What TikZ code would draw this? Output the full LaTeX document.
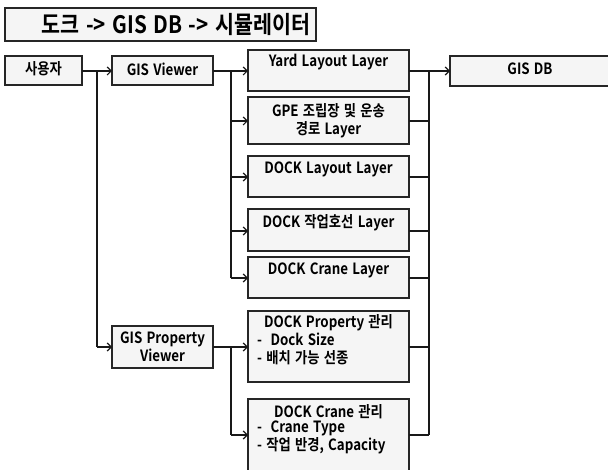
\documentclass[tikz,border=0pt]{standalone}
\usepackage{fontspec}
\setmainfont{Noto Sans CJK KR}[BoldFont=* Bold, FakeStretch=0.86, WordSpace=1.4]
\usetikzlibrary{arrows.meta,calc}
\begin{document}
\begin{tikzpicture}[x=1pt,y=-1pt,
  box/.style={draw=black!85,line width=1.4pt,fill=black!4,rectangle,inner sep=0pt,outer sep=0pt,anchor=north west},
  txt/.style={inner sep=0pt,font=\fontsize{15.5}{17.5}\selectfont\bfseries,align=center},
  conn/.style={draw=black!90,line width=1.4pt},
  arr/.style={conn,-{Straight Barb[length=4pt,width=8pt,line width=1.2pt]}}]
\useasboundingbox (0,0) rectangle (608,470);
% boxes
\node[box,minimum width=311,minimum height=33] (title) at (5,8) {};
\node[txt,font=\fontsize{24}{28}\selectfont\bfseries] (titlet) at (176,24.5) {도크 -> GIS DB -> 시뮬레이터};
\node[box,minimum width=77,minimum height=29] (user) at (5,56) {};
\node[txt] (usert) at (43.5,69) {사용자};
\node[box,minimum width=101,minimum height=29] (viewer) at (112,56) {};
\node[txt] (viewert) at (162.5,69) {GIS Viewer};
\node[box,minimum width=101,minimum height=42] (pviewer) at (112,326) {};
\node[txt] (pviewert) at (pviewer.center) {GIS Property\\Viewer};
\node[box,minimum width=161,minimum height=41] (yard) at (248,50) {};
\node[txt] (yardt) at (328.5,62) {Yard Layout Layer};
\node[box,minimum width=161,minimum height=47] (gpe) at (248,97) {};
\node[txt] (gpet) at (gpe.center) {GPE 조립장 및 운송\\경로 Layer};
\node[box,minimum width=161,minimum height=41] (dlay) at (248,156) {};
\node[txt] (dlayt) at (328.5,169) {DOCK Layout Layer};
\node[box,minimum width=161,minimum height=42] (dwork) at (248,209) {};
\node[txt] (dworkt) at (328.5,223) {DOCK 작업호선 Layer};
\node[box,minimum width=161,minimum height=41] (dcrane) at (248,257) {};
\node[txt] (dcranet) at (328.5,270) {DOCK Crane Layer};
\node[box,minimum width=161,minimum height=71] (dprop) at (248,311) {};
\node[txt] (dpropt) at (328.5,323) {DOCK Property 관리};
\node[txt,anchor=north west,align=left] (dpropl) at (257,333) {-\ \ Dock Size\\- 배치 가능 선종};
\node[box,minimum width=161,minimum height=100] (dcm) at (248,399) {};
\node[txt] (dcmt) at (328.5,412) {DOCK Crane 관리};
\node[txt,anchor=north west,align=left] (dcml) at (257,421) {-\ \ Crane Type\\- 작업 반경, Capacity};
\node[box,minimum width=162,minimum height=30] (gisdb) at (450,56) {};
\node[txt] (gisdbt) at (530,69) {GIS DB};
% junctions
\coordinate (j1) at (97,71);
\coordinate (j2) at (231,71);
\coordinate (j3) at (429,71);
\coordinate (j4) at (231,347);
% connectors
\draw[arr] (user.east |- j1) -- (viewer.west |- j1);
\draw[conn] (j1) -- (97,347);
\draw[arr] (97,347) -- (pviewer.west |- j4);
\draw[conn] (viewer.east |- j2) -- (j2) -- (231,278);
\draw[arr] (j2) -- (yard.west |- j2);
\draw[arr] (231,121) -- (gpe.west |- 0,121);
\draw[arr] (231,177) -- (dlay.west |- 0,177);
\draw[arr] (231,231) -- (dwork.west |- 0,231);
\draw[arr] (231,278) -- (dcrane.west |- 0,278);
\draw[conn] (pviewer.east |- j4) -- (j4) -- (231,435);
\draw[arr] (j4) -- (dprop.west |- j4);
\draw[arr] (231,435) -- (dcm.west |- 0,435);
\draw[conn] (yard.east |- j3) -- (j3) -- (429,435);
\draw[arr] (j3) -- (gisdb.west |- j3);
\draw[conn] (gpe.east |- 0,121) -- (429,121);
\draw[conn] (dlay.east |- 0,177) -- (429,177);
\draw[conn] (dwork.east |- 0,231) -- (429,231);
\draw[conn] (dcrane.east |- 0,278) -- (429,278);
\draw[conn] (dprop.east |- 0,347) -- (429,347);
\draw[conn] (dcm.east |- 0,435) -- (429,435);
\end{tikzpicture}
\end{document}
